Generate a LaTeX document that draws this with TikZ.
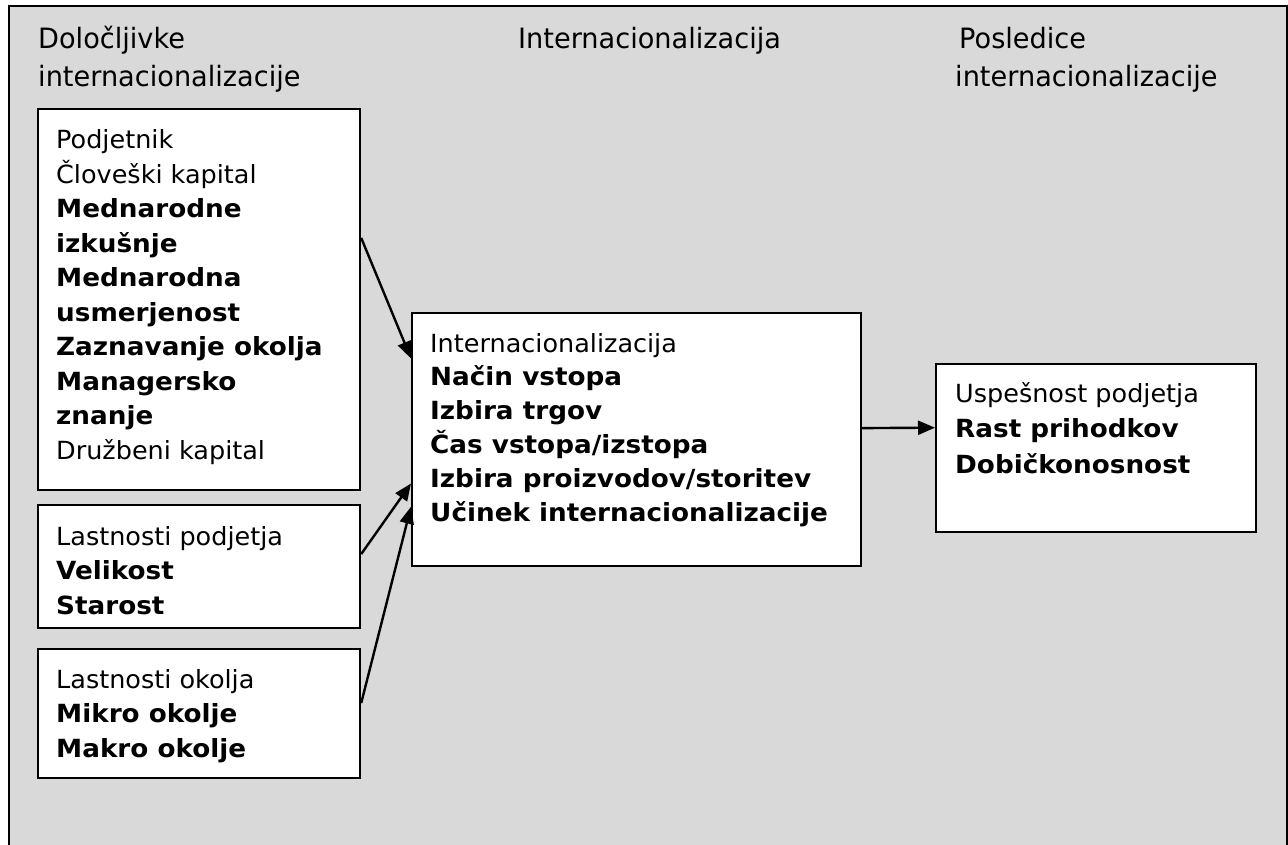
\documentclass[tikz,border=0pt]{standalone}
\usepackage{fontspec}
\setmainfont{DejaVu Sans}[FakeStretch=1.02, BoldFont={DejaVu Sans Bold}, BoldFeatures={FakeStretch=1.05}]
\newfontfamily\headfont{DejaVu Sans}[FakeStretch=0.97]
\usetikzlibrary{arrows.meta,calc}

% multi-line text whose reference point is the first baseline
\newcommand{\linesat}[1]{\begin{tabular}[t]{@{}l@{}}#1\end{tabular}}

\tikzset{
  panel/.style={draw=black, line width=2.2pt, fill=white, anchor=north west, inner sep=0pt},
  txt/.style={anchor=base west, inner sep=0pt,
    font=\fontsize{25}{34.5}\selectfont},
  head/.style={anchor=base west, inner sep=0pt,
    font=\headfont\fontsize{28}{38}\selectfont},
  link/.style={line width=2.4pt, -{Triangle[length=17pt,width=14pt]}}
}

\begin{document}
\begin{tikzpicture}[x=1pt,y=-1pt]
  \useasboundingbox (0,0) rectangle (1288,845);
  \fill[white] (0,0) rectangle (1288,845);
  % grey background frame, open at the bottom of the page
  \begin{scope}
    \clip (0,0) rectangle (1288,845);
    \draw[line width=2.5pt, fill={rgb,255:red,217;green,217;blue,217}] (9,6) rectangle (1287,870);
  \end{scope}

  % column headings
  \node[head] (h1) at (38,49) {\linesat{Določljivke\\internacionalizacije}};
  \node[head] (h2) at (518,49) {Internacionalizacija};
  \node[head] (h3) at (955,49) {\linesat{\hspace{4pt}Posledice\\internacionalizacije}};

  % boxes
  \node[panel, minimum width=322pt, minimum height=381pt] (b1) at (37,108) {};
  \node[panel, minimum width=322pt, minimum height=123pt] (b2) at (37,504) {};
  \node[panel, minimum width=322pt, minimum height=129pt] (b3) at (37,648) {};
  \node[panel, minimum width=449pt, minimum height=253pt] (c)  at (411,312) {};
  \node[panel, minimum width=320pt, minimum height=168pt] (r)  at (935,363) {};

  % box texts
  \node[txt] (t1) at (56,149) {\linesat{Podjetnik\\Človeški kapital\\\textbf{Mednarodne}\\\textbf{izkušnje}\\\textbf{Mednarodna}\\\textbf{usmerjenost}\\\textbf{Zaznavanje okolja}\\\textbf{Managersko}\\\textbf{znanje}\\Družbeni kapital}};
  \node[txt] (t2) at (56,545) {\linesat{Lastnosti podjetja\\\textbf{Velikost}\\\textbf{Starost}}};
  \node[txt] (t3) at (56,688) {\linesat{Lastnosti okolja\\\textbf{Mikro okolje}\\\textbf{Makro okolje}}};
  \node[txt, font=\fontsize{25}{33.8}\selectfont] (tc) at (430,352) {\linesat{Internacionalizacija\\\textbf{Način vstopa}\\\textbf{Izbira trgov}\\\textbf{Čas vstopa/izstopa}\\\textbf{Izbira proizvodov/storitev}\\\textbf{Učinek internacionalizacije}}};
  \node[txt, font=\fontsize{25}{35.5}\selectfont] (tr) at (955,402) {\linesat{Uspešnost podjetja\\\textbf{Rast prihodkov}\\\textbf{Dobičkonosnost}}};

  % connectors
  \draw[link] ($(b1.north east)!0.339!(b1.south east)$) -- ($(c.north west)!0.182!(c.south west)$);
  \draw[link] ($(b2.north east)!0.40!(b2.south east)$) -- ($(c.north west)!0.672!(c.south west)$);
  \draw[link] ($(b3.north east)!0.42!(b3.south east)$) -- ($(c.north west)!0.763!(c.south west)$);
  \draw[link] ($(c.north east)!0.455!(c.south east)$) -- ($(r.north west)!0.38!(r.south west)$);
\end{tikzpicture}
\end{document}
